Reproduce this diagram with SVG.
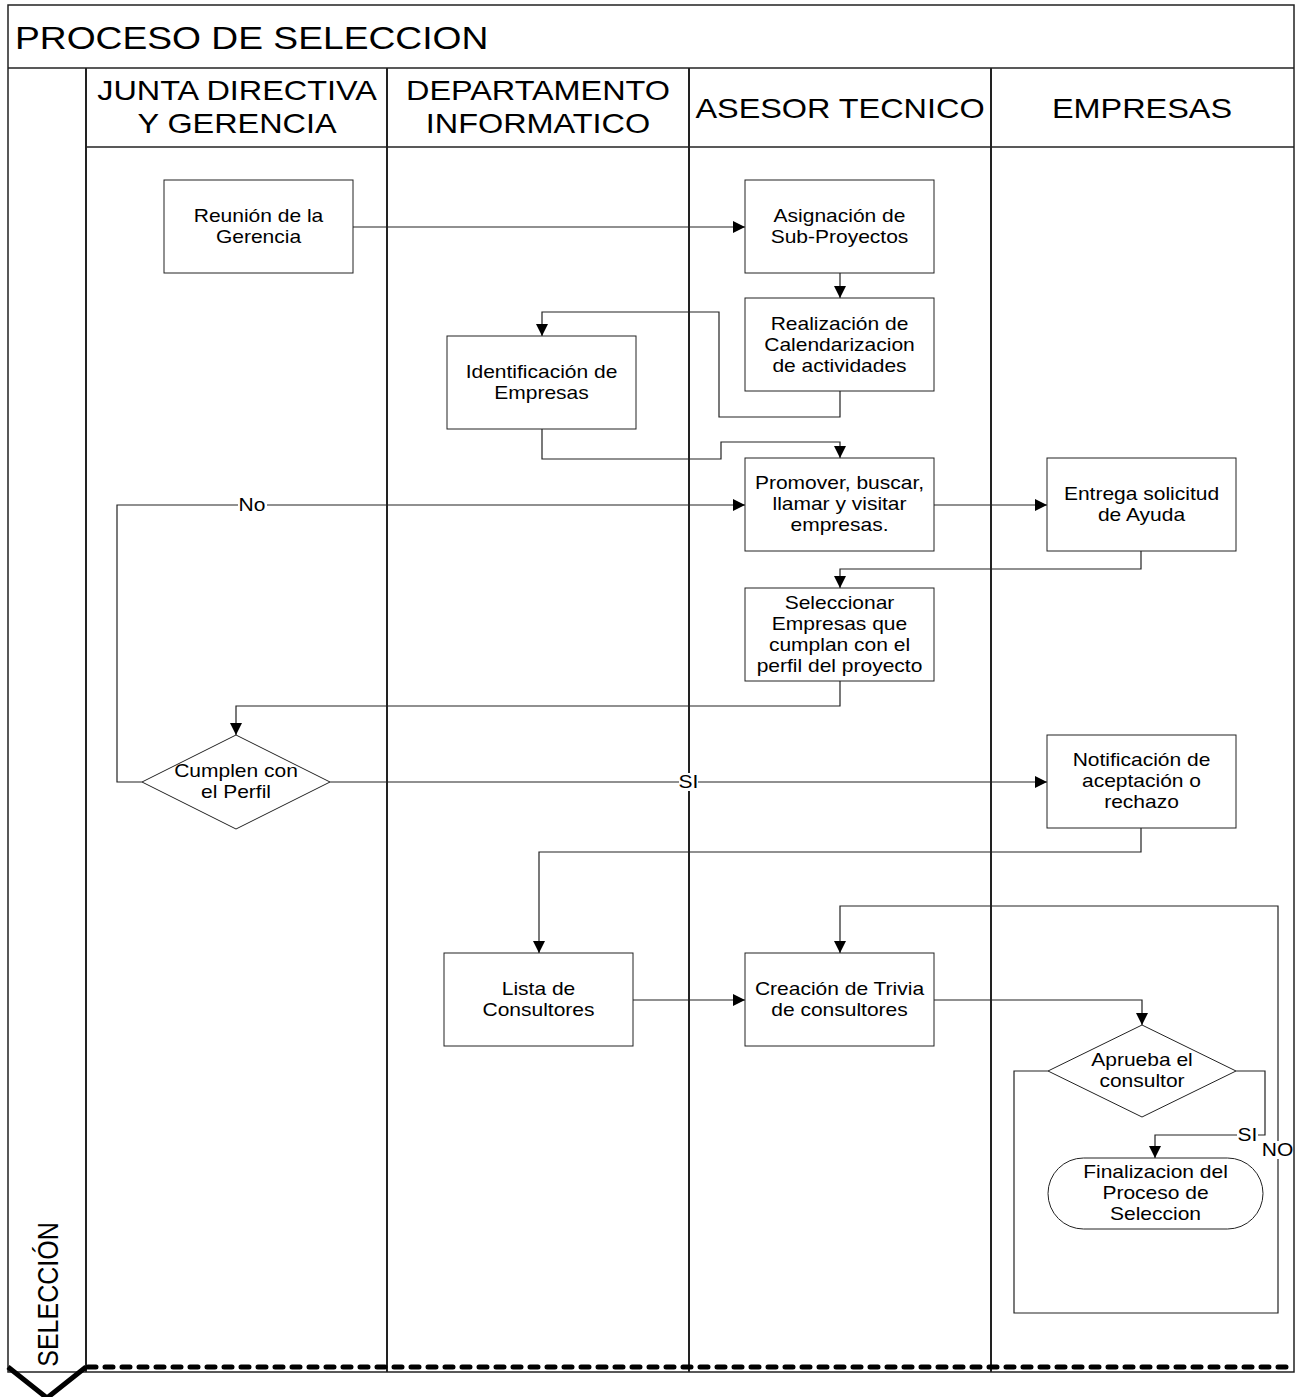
<svg xmlns="http://www.w3.org/2000/svg" width="1297" height="1397" viewBox="0 0 1297 1397">
<defs>
<style>
text{font-family:"Liberation Sans",Arial,sans-serif;fill:#000}
.t{font-size:17.5px;text-anchor:middle}
.h{font-size:27px;text-anchor:middle}
.frame{fill:none;stroke:#222;stroke-width:1.5}
.lane{stroke:#222;stroke-width:2;fill:none}
.box{fill:#fff;stroke:#222;stroke-width:1}
.con{fill:none;stroke:#222;stroke-width:1.2}
.lbl{fill:#fff;stroke:none}
</style>
<marker id="arr" markerUnits="userSpaceOnUse" markerWidth="12" markerHeight="12" refX="12" refY="6" orient="auto">
<path d="M0,0 L12,6 L0,12 z" fill="#000"/>
</marker>
</defs>
<rect width="1297" height="1397" fill="#fff"/>

<g id="frame">
<rect class="frame" x="8" y="5" width="1286" height="1367"/>
<line class="frame" x1="8" y1="68" x2="1294" y2="68"/>
<line class="frame" x1="86" y1="147" x2="1294" y2="147"/>
<line class="lane" x1="86" y1="68" x2="86" y2="1372"/>
<line class="lane" x1="387" y1="68" x2="387" y2="1372"/>
<line class="lane" x1="689" y1="68" x2="689" y2="1372"/>
<line class="lane" x1="991" y1="68" x2="991" y2="1372"/>
<line x1="88" y1="1367" x2="1290" y2="1367" stroke="#000" stroke-width="5" stroke-dasharray="8 9" stroke-linecap="round"/>
<path d="M8,1367 L47,1398 L86,1367" fill="none" stroke="#000" stroke-width="5"/>
<text transform="matrix(1.2 0 0 1 15 0)" x="0" y="49" font-size="31">PROCESO DE SELECCION</text>
<text transform="matrix(0 -1 1.2 0 58 1294.5)" x="0" y="0" font-size="25" text-anchor="middle">SELECCIÓN</text>
<text class="h" transform="matrix(1.2 0 0 1 237 0)"><tspan x="0" y="100">JUNTA DIRECTIVA</tspan><tspan x="0" y="133">Y GERENCIA</tspan></text>
<text class="h" transform="matrix(1.2 0 0 1 538 0)"><tspan x="0" y="100">DEPARTAMENTO</tspan><tspan x="0" y="133">INFORMATICO</tspan></text>
<text class="h" transform="matrix(1.2 0 0 1 840 0)" x="0" y="118">ASESOR TECNICO</text>
<text class="h" transform="matrix(1.2 0 0 1 1142 0)" x="0" y="118">EMPRESAS</text>
</g>

<g id="connectors">
<path class="con" d="M353,227 H745" marker-end="url(#arr)"/>
<path class="con" d="M840,273 V298" marker-end="url(#arr)"/>
<path class="con" d="M840,391 V417 H719 V312 H542 V336" marker-end="url(#arr)"/>
<path class="con" d="M542,429 V459 H721 V442 H840 V458" marker-end="url(#arr)"/>
<path class="con" d="M142,782 H117 V505 H745" marker-end="url(#arr)"/>
<path class="con" d="M934,505 H1047" marker-end="url(#arr)"/>
<path class="con" d="M1141,551 V569 H840 V588" marker-end="url(#arr)"/>
<path class="con" d="M840,681 V706 H236 V735" marker-end="url(#arr)"/>
<path class="con" d="M330,782 H1047" marker-end="url(#arr)"/>
<path class="con" d="M1141,828 V852 H539 V953" marker-end="url(#arr)"/>
<path class="con" d="M633,1000 H745" marker-end="url(#arr)"/>
<path class="con" d="M934,1000 H1142 V1025" marker-end="url(#arr)"/>
<path class="con" d="M1236,1071 H1265 V1135 H1155 V1158" marker-end="url(#arr)"/>
<path class="con" d="M1048,1071 H1014 V1313 H1278 V906 H840 V953" marker-end="url(#arr)"/>
<rect class="lbl" x="238" y="496" width="29" height="18"/>
<text class="t" transform="matrix(1.2 0 0 1 252 0)" x="0" y="511">No</text>
<rect class="lbl" x="679" y="773" width="19" height="18"/>
<text class="t" transform="matrix(1.2 0 0 1 688.5 0)" x="0" y="788">SI</text>
<rect class="lbl" x="1237" y="1126" width="21" height="18"/>
<text class="t" transform="matrix(1.2 0 0 1 1247.5 0)" x="0" y="1141">SI</text>
<rect class="lbl" x="1262" y="1141" width="31" height="18"/>
<text class="t" transform="matrix(1.2 0 0 1 1277.5 0)" x="0" y="1156">NO</text>
</g>

<g id="n-reunion">
<rect class="box" x="164" y="180" width="189" height="93"/>
<text class="t" transform="matrix(1.2 0 0 1 258.5 0)"><tspan x="0" y="222">Reunión de la</tspan><tspan x="0" y="243">Gerencia</tspan></text>
</g>
<g id="n-asignacion">
<rect class="box" x="745" y="180" width="189" height="93"/>
<text class="t" transform="matrix(1.2 0 0 1 839.5 0)"><tspan x="0" y="222">Asignación de</tspan><tspan x="0" y="243">Sub-Proyectos</tspan></text>
</g>
<g id="n-realizacion">
<rect class="box" x="745" y="298" width="189" height="93"/>
<text class="t" transform="matrix(1.2 0 0 1 839.5 0)"><tspan x="0" y="330">Realización de</tspan><tspan x="0" y="351">Calendarizacion</tspan><tspan x="0" y="372">de actividades</tspan></text>
</g>
<g id="n-identificacion">
<rect class="box" x="447" y="336" width="189" height="93"/>
<text class="t" transform="matrix(1.2 0 0 1 541.5 0)"><tspan x="0" y="378">Identificación de</tspan><tspan x="0" y="399">Empresas</tspan></text>
</g>
<g id="n-promover">
<rect class="box" x="745" y="458" width="189" height="93"/>
<text class="t" transform="matrix(1.2 0 0 1 839.5 0)"><tspan x="0" y="489.5">Promover, buscar,</tspan><tspan x="0" y="510.5">llamar y visitar</tspan><tspan x="0" y="531.5">empresas.</tspan></text>
</g>
<g id="n-entrega">
<rect class="box" x="1047" y="458" width="189" height="93"/>
<text class="t" transform="matrix(1.2 0 0 1 1141.5 0)"><tspan x="0" y="500">Entrega solicitud</tspan><tspan x="0" y="521">de Ayuda</tspan></text>
</g>
<g id="n-seleccionar">
<rect class="box" x="745" y="588" width="189" height="93"/>
<text class="t" transform="matrix(1.2 0 0 1 839.5 0)"><tspan x="0" y="609">Seleccionar</tspan><tspan x="0" y="630">Empresas que</tspan><tspan x="0" y="651">cumplan con el</tspan><tspan x="0" y="672">perfil del proyecto</tspan></text>
</g>
<g id="n-cumplen">
<polygon class="box" points="236,735 330,782 236,829 142,782"/>
<text class="t" transform="matrix(1.2 0 0 1 236 0)"><tspan x="0" y="777.5">Cumplen con</tspan><tspan x="0" y="798.5">el Perfil</tspan></text>
</g>
<g id="n-notificacion">
<rect class="box" x="1047" y="735" width="189" height="93"/>
<text class="t" transform="matrix(1.2 0 0 1 1141.5 0)"><tspan x="0" y="766.5">Notificación de</tspan><tspan x="0" y="787.5">aceptación o</tspan><tspan x="0" y="808.5">rechazo</tspan></text>
</g>
<g id="n-lista">
<rect class="box" x="444" y="953" width="189" height="93"/>
<text class="t" transform="matrix(1.2 0 0 1 538.5 0)"><tspan x="0" y="995">Lista de</tspan><tspan x="0" y="1016">Consultores</tspan></text>
</g>
<g id="n-creacion">
<rect class="box" x="745" y="953" width="189" height="93"/>
<text class="t" transform="matrix(1.2 0 0 1 839.5 0)"><tspan x="0" y="995">Creación de Trivia</tspan><tspan x="0" y="1016">de consultores</tspan></text>
</g>
<g id="n-aprueba">
<polygon class="box" points="1142,1025 1236,1071 1142,1117 1048,1071"/>
<text class="t" transform="matrix(1.2 0 0 1 1142 0)"><tspan x="0" y="1066.5">Aprueba el</tspan><tspan x="0" y="1087.5">consultor</tspan></text>
</g>
<g id="n-finalizacion">
<rect class="box" x="1048" y="1158" width="215" height="71" rx="35.5" ry="35.5"/>
<text class="t" transform="matrix(1.2 0 0 1 1155.5 0)"><tspan x="0" y="1178">Finalizacion del</tspan><tspan x="0" y="1199">Proceso de</tspan><tspan x="0" y="1220">Seleccion</tspan></text>
</g>
</svg>
